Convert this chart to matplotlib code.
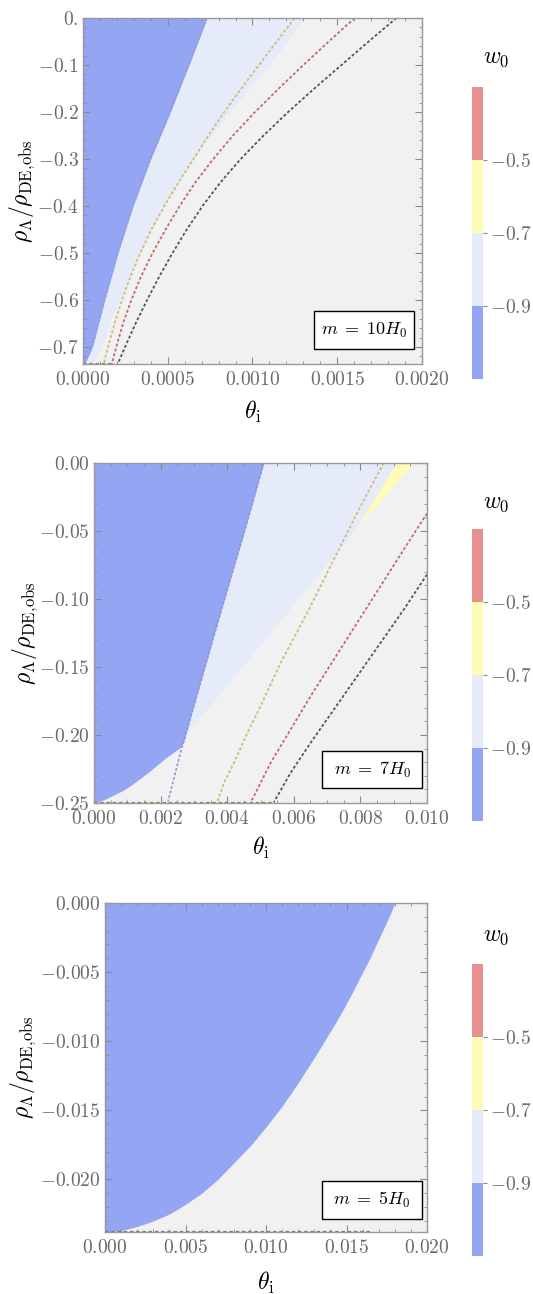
#Contour regions of w0 in the (theta_i, rho_Lambda) plane for m = 10, 7, 5 H0

import numpy as np
import matplotlib
matplotlib.use("Agg")
import matplotlib.pyplot as plt
import matplotlib.colorbar as mcolorbar
from matplotlib.colors import ListedColormap, BoundaryNorm
from matplotlib.patches import Rectangle
from matplotlib.ticker import FixedLocator, FixedFormatter, AutoMinorLocator, NullLocator

plt.rcParams['mathtext.fontset'] = 'cm'
plt.rcParams['font.family'] = 'serif'

##########################
######## The data ########
##########################

# w0 colour bins (colorbar)
w0_bounds = [-1.1, -0.9, -0.7, -0.5, -0.3]
w0_ticks = [-0.9, -0.7, -0.5]
w0_ticklabels = ['-0.9', '-0.7', '-0.5']

## Panel 1: m = 10 H0
top_xticks = [0.0, 0.0005, 0.0010, 0.0015, 0.0020]
top_xticklabels = ['0.0000', '0.0005', '0.0010', '0.0015', '0.0020']
top_yticks = [0.0, -0.1, -0.2, -0.3, -0.4, -0.5, -0.6, -0.7]
top_yticklabels = ['0.', '-0.1', '-0.2', '-0.3', '-0.4', '-0.5', '-0.6', '-0.7']
top_ymin = -0.736

# w0 < -0.9 region (left of this edge)
top_blue_rho = [0.0, -0.1, -0.2, -0.3, -0.4, -0.5, -0.6, -0.7, -0.736]
top_blue_theta = [0.000732, 0.000625, 0.000515, 0.000399, 0.000295, 0.000206, 0.000128, 0.000055, 0.00001]
# -0.9 < w0 < -0.7 region (left of this edge)
top_lav_rho = [0.0, -0.043, -0.1, -0.142, -0.2, -0.248, -0.3, -0.355, -0.4, -0.454, -0.5, -0.567, -0.6, -0.638, -0.7, -0.736]
top_lav_theta = [0.001298, 0.001219, 0.001101, 0.001003, 0.000865, 0.000757, 0.000649, 0.000551, 0.000482, 0.000393, 0.000334, 0.000256, 0.000216, 0.000167, 0.000108, 0.000059]
# dashed contours
top_line_rho = [0.0, -0.05, -0.1, -0.15, -0.2, -0.25, -0.3, -0.35, -0.4, -0.45, -0.5, -0.55, -0.6, -0.65, -0.7, -0.736]
top_yel_theta = [0.001249, 0.001143, 0.001038, 0.000934, 0.000833, 0.000740, 0.000652, 0.000563, 0.000480, 0.000403, 0.000338, 0.000280, 0.000230, 0.000186, 0.000148, 0.000122]
top_red_theta = [0.001603, 0.001450, 0.001300, 0.001155, 0.001015, 0.000885, 0.000768, 0.000662, 0.000570, 0.000487, 0.000410, 0.000342, 0.000285, 0.000236, 0.000196, 0.000170]
top_blk_theta = [0.001849, 0.001685, 0.001525, 0.001365, 0.001210, 0.001065, 0.000930, 0.000810, 0.000705, 0.000612, 0.000528, 0.000450, 0.000378, 0.000310, 0.000248, 0.000205]
top_floor_theta = [0.0, 0.00018]

## Panel 2: m = 7 H0
mid_xticks = [0.0, 0.002, 0.004, 0.006, 0.008, 0.010]
mid_xticklabels = ['0.000', '0.002', '0.004', '0.006', '0.008', '0.010']
mid_yticks = [0.0, -0.05, -0.10, -0.15, -0.20, -0.25]
mid_yticklabels = ['0.00', '-0.05', '-0.10', '-0.15', '-0.20', '-0.25']
mid_ymin = -0.25

mid_blue_rho = [0.0, -0.05, -0.10, -0.15, -0.20, -0.205, -0.209, -0.213, -0.2175, -0.222, -0.228, -0.233, -0.238, -0.241, -0.245, -0.248, -0.25]
mid_blue_theta = [0.0051, 0.00452, 0.00392, 0.00333, 0.00275, 0.0027, 0.0026, 0.00237, 0.00212, 0.0019, 0.00160, 0.00133, 0.00105, 0.00085, 0.00052, 0.00026, 0.0]
mid_lav_rho = [0.0, 0.0, -0.048, -0.203, -0.203]
mid_lav_theta = [0.0, 0.0091, 0.0079, 0.00268, 0.0]
mid_yelreg_rho = [0.0, 0.0, -0.048]
mid_yelreg_theta = [0.0091, 0.0096, 0.0079]
# dashed contours
mid_bl_rho = [0.0, -0.05, -0.10, -0.15, -0.20, -0.208, -0.249]
mid_bl_theta = [0.0051, 0.00452, 0.00392, 0.00333, 0.00275, 0.00265, 0.00222]
mid_yel_rho = [0.0, -0.0319, -0.0711, -0.1103, -0.1471, -0.1789, -0.1961, -0.2206, -0.2353, -0.2495]
mid_yel_theta = [0.0087, 0.0080, 0.0072, 0.0064, 0.0056, 0.0050, 0.00465, 0.0042, 0.0039, 0.0037]
mid_red_rho = [-0.037, -0.0637, -0.0907, -0.1176, -0.1446, -0.1716, -0.1961, -0.2206, -0.2451, -0.2495]
mid_red_theta = [0.0100, 0.0093, 0.0086, 0.0079, 0.0072, 0.0065, 0.0059, 0.0053, 0.0048, 0.0047]
mid_blk_rho = [-0.082, -0.1078, -0.1324, -0.1569, -0.1814, -0.2059, -0.2279, -0.2495]
mid_blk_theta = [0.0100, 0.0093, 0.0086, 0.0079, 0.0072, 0.0065, 0.0059, 0.0054]
mid_floor_theta = [0.0, 0.0054]

## Panel 3: m = 5 H0
bot_xticks = [0.0, 0.005, 0.010, 0.015, 0.020]
bot_xticklabels = ['0.000', '0.005', '0.010', '0.015', '0.020']
bot_yticks = [0.0, -0.005, -0.010, -0.015, -0.020]
bot_yticklabels = ['0.000', '-0.005', '-0.010', '-0.015', '-0.020']
bot_ymin = -0.0238

bot_blue_rho = [0.0, -0.0008, -0.0015, -0.0027, -0.004, -0.0052, -0.0065, -0.0078, -0.009, -0.011, -0.013, -0.0147, -0.0162, -0.0176, -0.0188, -0.020, -0.021, -0.0218, -0.0225, -0.023, -0.0234, -0.0237, -0.0238]
bot_blue_theta = [0.0180, 0.01772, 0.01745, 0.01696, 0.01645, 0.01592, 0.01535, 0.01475, 0.01415, 0.0131, 0.0120, 0.0110, 0.0100, 0.0090, 0.0080, 0.0070, 0.0060, 0.0050, 0.0040, 0.0030, 0.0020, 0.0010, 0.0]
bot_floor_theta = [0.0, 0.0165]

##########################
######## Plotting ########
##########################

c_blue = '#94a6f3'
c_lav = '#e6ebfa'
c_yel = '#fffcb8'
c_red = '#e89090'
c_bg = '#f1f1f1'
d_blue = '#8e98cc'
d_yel = '#cbbd78'
d_red = '#c26a6a'
d_blk = '#555555'
dash = (0, (1.6, 1.2))

W, H = 533, 1294
fig = plt.figure(figsize=(W / 100, H / 100), dpi=100)


def px_axes(x0, y0, x1, y1):
    return fig.add_axes([x0 / W, 1 - y1 / H, (x1 - x0) / W, (y1 - y0) / H])


def style_axes(ax, xticks, xlabels, yticks, ylabels, ymin, nxminor, nyminor):
    ax.set_facecolor(c_bg)
    ax.set_xlim(xticks[0], xticks[-1])
    ax.set_ylim(ymin, 0)
    ax.xaxis.set_major_locator(FixedLocator(xticks))
    ax.xaxis.set_major_formatter(FixedFormatter(['$%s$' % s for s in xlabels]))
    ax.yaxis.set_major_locator(FixedLocator(yticks))
    ax.yaxis.set_major_formatter(FixedFormatter(['$%s$' % s for s in ylabels]))
    ax.xaxis.set_minor_locator(AutoMinorLocator(nxminor))
    ax.yaxis.set_minor_locator(AutoMinorLocator(nyminor))
    ax.tick_params(which='both', direction='in', top=True, right=True, color='#8a8a8a',
                   labelcolor='#6a6a6a', labelsize=14)
    ax.tick_params(which='major', length=5, width=0.8)
    ax.tick_params(which='minor', length=2.5, width=0.6)
    ax.tick_params(axis='x', pad=5)
    ax.tick_params(axis='y', pad=3)
    for s in ax.spines.values():
        s.set_color('#999999')
        s.set_linewidth(1.0)


def add_colorbar(cax, label_y):
    cmap = ListedColormap([c_blue, c_lav, c_yel, c_red])
    norm = BoundaryNorm(w0_bounds, cmap.N)
    cb = mcolorbar.ColorbarBase(cax, cmap=cmap, norm=norm, boundaries=w0_bounds,
                                ticks=w0_ticks, spacing='uniform')
    cb.outline.set_visible(False)
    cb.ax.yaxis.set_minor_locator(NullLocator())
    cb.ax.set_yticklabels(['$%s$' % s for s in w0_ticklabels])
    cb.ax.tick_params(length=3, width=0.8, color='#8a8a8a', labelcolor='#6a6a6a',
                      labelsize=14, pad=2)
    fig.text(496 / W, 1 - label_y / H, r'$w_0$', ha='center', va='center', fontsize=17)


def add_tag(ax, text, x0, y0, x1, y1):
    ax.add_patch(Rectangle((x0, y0), x1 - x0, y1 - y0, transform=ax.transAxes,
                           facecolor='white', edgecolor='black', linewidth=1.0, zorder=6))
    ax.text((x0 + x1) / 2, (y0 + y1) / 2, text, transform=ax.transAxes, ha='center',
            va='center', fontsize=13, zorder=7)


def add_labels(ax, xlab_y, ylab_x):
    ax.set_xlabel(r'$\theta_{\rm i}$', fontsize=17)
    ax.xaxis.label.set_va('center')
    ax.xaxis.set_label_coords(0.5, xlab_y)
    ax.set_ylabel(r'$\rho_\Lambda/\rho_{\mathrm{DE},\!\mathrm{obs}}$', fontsize=17)
    ax.yaxis.label.set_va('center')
    ax.yaxis.set_label_coords(ylab_x, 0.5)


# --- panel 1: m = 10 H0
ax1 = px_axes(83, 18, 422, 364)
style_axes(ax1, top_xticks, top_xticklabels, top_yticks, top_yticklabels, top_ymin, 5, 5)
ax1.fill_betweenx(top_lav_rho, 0, top_lav_theta, color=c_lav, lw=0)
ax1.fill_betweenx(top_blue_rho, 0, top_blue_theta, color=c_blue, lw=0)
ax1.plot(top_blue_theta, top_blue_rho, color=d_blue, lw=1.1, ls=dash, alpha=0.7)
ax1.plot(top_yel_theta, top_line_rho, color=d_yel, lw=1.3, ls=dash)
ax1.plot(top_red_theta, top_line_rho, color=d_red, lw=1.3, ls=dash)
ax1.plot(top_blk_theta, top_line_rho, color=d_blk, lw=1.3, ls=dash)
ax1.plot(top_floor_theta, [top_ymin, top_ymin], color='#9a7a4a', lw=1.6, ls=dash)
add_tag(ax1, r'$m\;=\;10H_0$', 0.681, 0.043, 0.976, 0.153)
add_labels(ax1, -0.139, -0.18)
add_colorbar(px_axes(472, 87, 483, 379), 58)

# --- panel 2: m = 7 H0
ax2 = px_axes(94, 463, 427, 803)
style_axes(ax2, mid_xticks, mid_xticklabels, mid_yticks, mid_yticklabels, mid_ymin, 4, 5)
ax2.fill(mid_lav_theta, mid_lav_rho, color=c_lav, lw=0)
ax2.fill(mid_yelreg_theta, mid_yelreg_rho, color=c_yel, lw=0)
ax2.fill_betweenx(mid_blue_rho, 0, mid_blue_theta, color=c_blue, lw=0)
ax2.plot(mid_bl_theta, mid_bl_rho, color=d_blue, lw=1.2, ls=dash)
ax2.plot(mid_yel_theta, mid_yel_rho, color=d_yel, lw=1.3, ls=dash)
ax2.plot(mid_red_theta, mid_red_rho, color=d_red, lw=1.3, ls=dash)
ax2.plot(mid_blk_theta, mid_blk_rho, color=d_blk, lw=1.3, ls=dash)
ax2.plot(mid_floor_theta, [mid_ymin, mid_ymin], color='#9a7a4a', lw=1.6, ls=dash)
add_tag(ax2, r'$m\;=\;7H_0$', 0.685, 0.044, 0.985, 0.153)
add_labels(ax2, -0.132, -0.207)
add_colorbar(px_axes(472, 529, 483, 821), 502)

# --- panel 3: m = 5 H0
ax3 = px_axes(105, 903, 427, 1232)
style_axes(ax3, bot_xticks, bot_xticklabels, bot_yticks, bot_yticklabels, bot_ymin, 5, 5)
ax3.fill_betweenx(bot_blue_rho, 0, bot_blue_theta, color=c_blue, lw=0)
ax3.plot(bot_floor_theta, [bot_ymin, bot_ymin], color='#777777', lw=1.6, ls=dash)
add_tag(ax3, r'$m\;=\;5H_0$', 0.674, 0.040, 0.984, 0.155)
add_labels(ax3, -0.155, -0.255)
add_colorbar(px_axes(472, 964, 483, 1256), 936)

fig.savefig('out.png', dpi=100)
